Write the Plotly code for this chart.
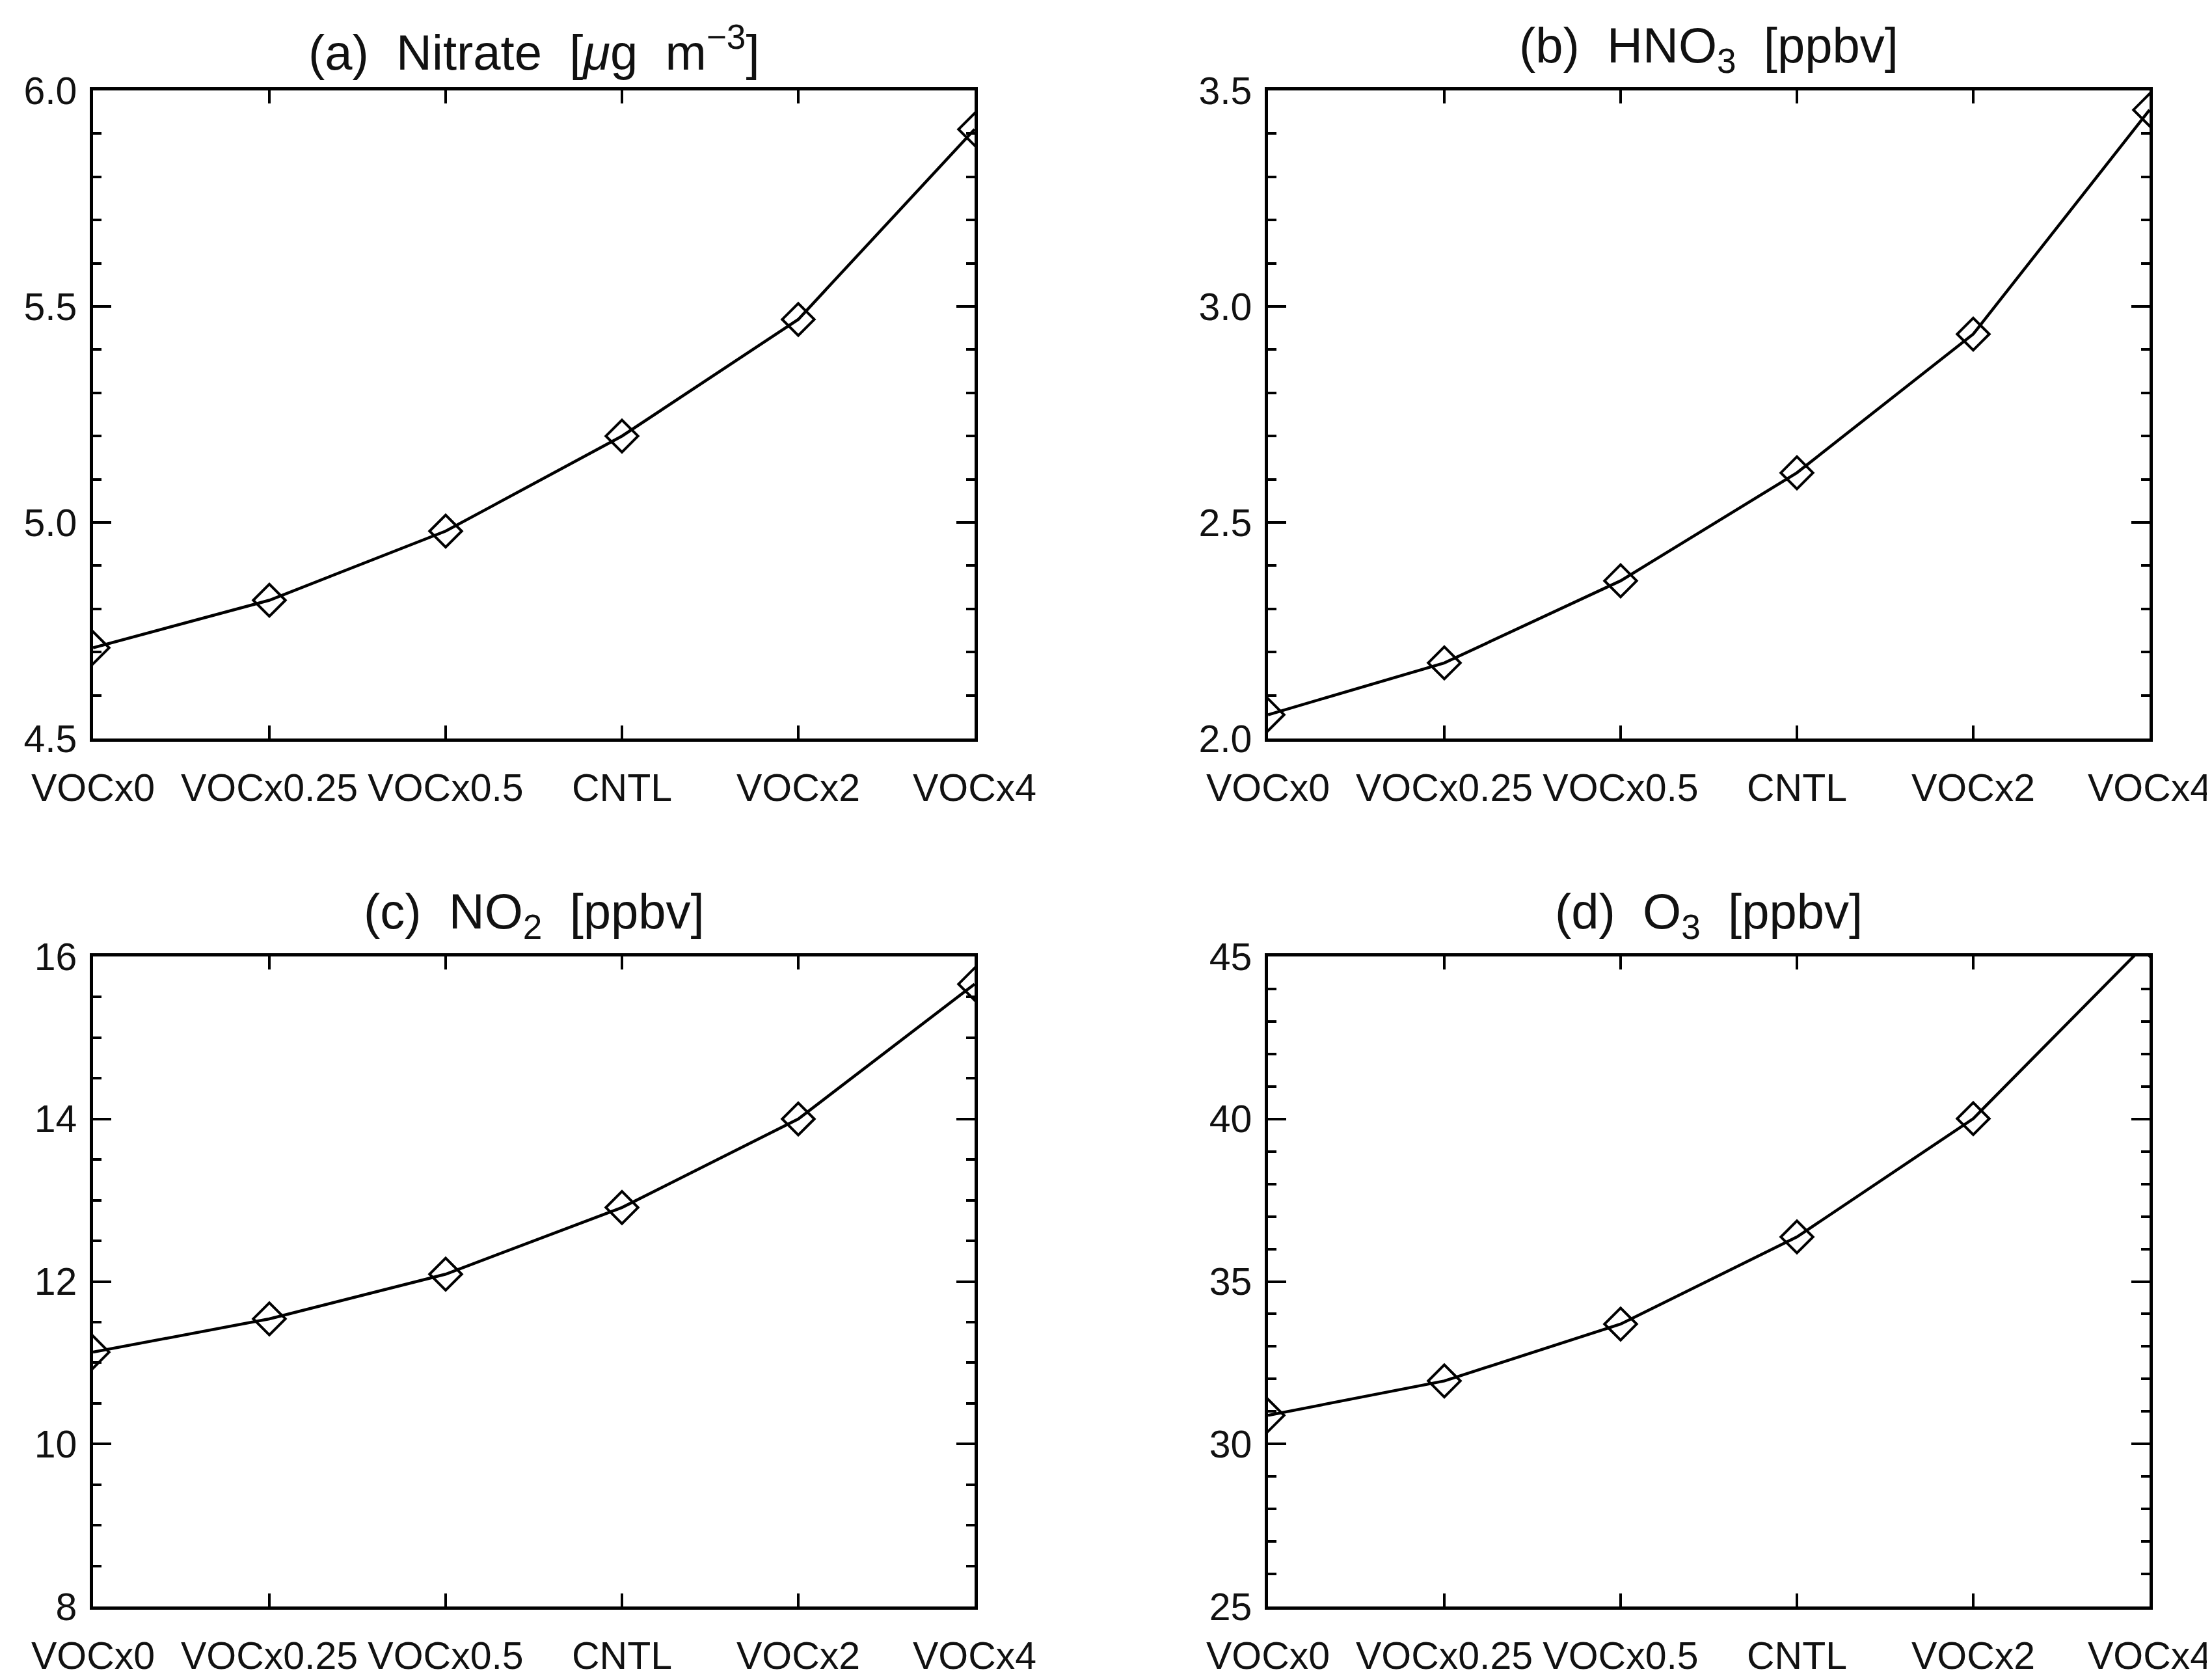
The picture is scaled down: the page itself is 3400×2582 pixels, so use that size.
import plotly.graph_objects as go
from plotly.subplots import make_subplots

# sensitivity runs on the x axis
runs = ["VOCx0", "VOCx0.25", "VOCx0.5", "CNTL", "VOCx2", "VOCx4"]

# values
nitrate = [4.71, 4.82, 4.98, 5.20, 5.47, 5.91]
hno3 = [2.055, 2.175, 2.365, 2.615, 2.936, 3.455]
no2 = [11.13, 11.54, 12.09, 12.91, 14.00, 15.66]
o3 = [30.88, 31.94, 33.69, 36.37, 40.01, 45.5]

SP = "\u00a0"
titles = [
    f"(a){SP}{SP}Nitrate{SP}{SP}[<i>μ</i>g{SP}{SP}m<sup>−3</sup>]",
    f"(b){SP}{SP}HNO<sub>3</sub>{SP}{SP}[ppbv]",
    f"(c){SP}{SP}NO<sub>2</sub>{SP}{SP}[ppbv]",
    f"(d){SP}{SP}O<sub>3</sub>{SP}{SP}[ppbv]",
]
y_ranges = [[4.5, 6.0], [2.0, 3.5], [8, 16], [25, 45]]
y_dticks = [0.5, 0.5, 2, 5]
y_minor = [0.1, 0.1, 0.5, 1]
y_formats = [".1f", ".1f", "d", "d"]

W, H = 3400, 2582
x_doms = [[135 / W, 1490 / W], [1941 / W, 3296 / W]]
y_doms = [[1 - 1127 / H, 1 - 131 / H], [1 - 2461 / H, 1 - 1462 / H]]

FONT = "Liberation Sans"

fig = make_subplots(rows=2, cols=2)

series = [nitrate, hno3, no2, o3]
for i, vals in enumerate(series):
    r, c = i // 2 + 1, i % 2 + 1
    fig.add_trace(
        go.Scatter(
            x=runs, y=vals, mode="lines+markers",
            line=dict(color="black", width=4.5),
            marker=dict(symbol="diamond-open", size=38, color="black",
                        line=dict(color="black", width=4)),
            showlegend=False,
        ),
        row=r, col=c,
    )
    fig.update_xaxes(
        domain=x_doms[c - 1], range=[0, 5], automargin=False,
        showline=True, linecolor="black", linewidth=4.5, mirror="ticks",
        ticks="inside", ticklen=20, tickwidth=4, tickcolor="black",
        ticklabelstandoff=20,
        showgrid=False, zeroline=False,
        tickfont=dict(family=FONT, size=59, color="#111"),
        row=r, col=c,
    )
    fig.update_yaxes(
        domain=y_doms[r - 1], range=y_ranges[i], dtick=y_dticks[i],
        tickformat=y_formats[i], automargin=False,
        showline=True, linecolor="black", linewidth=4.5, mirror="ticks",
        ticks="inside", ticklen=28, tickwidth=4, tickcolor="black",
        ticklabelstandoff=8,
        minor=dict(dtick=y_minor[i], ticks="inside", ticklen=13,
                   tickwidth=4, tickcolor="black", showgrid=False),
        showgrid=False, zeroline=False,
        tickfont=dict(family=FONT, size=59, color="#111"),
        row=r, col=c,
    )
    xd, yd = x_doms[c - 1], y_doms[r - 1]
    fig.add_annotation(
        text=titles[i], xref="paper", yref="paper",
        x=(xd[0] + xd[1]) / 2, y=yd[1] + 14 / H,
        xanchor="center", yanchor="bottom", showarrow=False,
        font=dict(family=FONT, size=76, color="#111"),
    )

fig.update_layout(
    width=W, height=H,
    margin=dict(l=0, r=0, t=0, b=0),
    paper_bgcolor="white", plot_bgcolor="white",
)

fig.write_html("out.html")
